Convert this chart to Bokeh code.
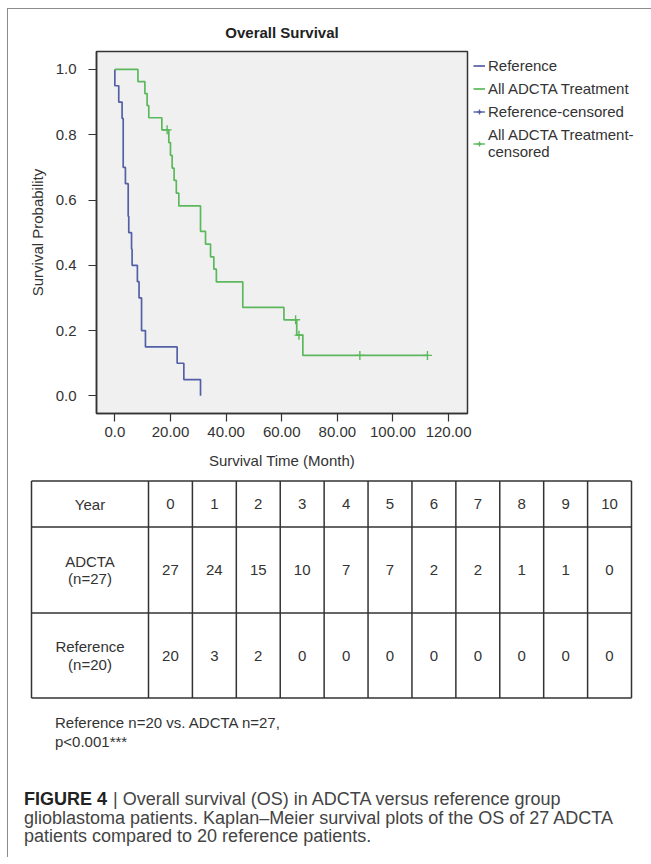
from bokeh.plotting import figure
from bokeh.models import Range1d, FixedTicker, Legend, LegendItem
from bokeh.embed import file_html
from bokeh.resources import INLINE
from bokeh.core.properties import value

# ---------------- data ----------------
ref_times = [0.0, 0.0, 1.4, 2.6, 3.0, 3.8, 4.8, 5.0, 6.0, 6.2, 8.1, 8.7, 9.6, 11.0, 22.4, 24.8, 30.8]
ref_surv = [1.0, 0.95, 0.90, 0.85, 0.70, 0.65, 0.55, 0.50, 0.45, 0.40, 0.35, 0.30, 0.20, 0.15, 0.10, 0.05, 0.00]
ref_cens_times = []
ref_cens_surv = []

adc_times = [0.0, 8.3, 10.8, 11.6, 12.2, 16.9, 19.4, 20.0, 20.6, 21.3, 22.1, 23.0,
             30.8, 32.6, 34.4, 35.6, 36.5, 46.0, 60.8, 65.4, 67.6, 112.4]
adc_surv = [1.0, 0.963, 0.926, 0.889, 0.852, 0.815, 0.776, 0.737, 0.698, 0.660, 0.621, 0.582,
            0.504, 0.465, 0.426, 0.388, 0.349, 0.271, 0.233, 0.186, 0.124, 0.124]
adc_cens_times = [18.8, 65.0, 66.2, 88.1, 112.4]
adc_cens_surv = [0.815, 0.233, 0.186, 0.124, 0.124]

x_ticks = [0, 20, 40, 60, 80, 100, 120]
x_tick_labels = ["0.0", "20.00", "40.00", "60.00", "80.00", "100.00", "120.00"]
y_ticks = [0.0, 0.2, 0.4, 0.6, 0.8, 1.0]
y_tick_labels = ["0.0", "0.2", "0.4", "0.6", "0.8", "1.0"]

legend_labels = ["Reference", "All ADCTA Treatment", "Reference-censored",
                 "All ADCTA Treatment-\ncensored"]

table_years = ["0", "1", "2", "3", "4", "5", "6", "7", "8", "9", "10"]
adcta_at_risk = [27, 24, 15, 10, 7, 7, 2, 2, 1, 1, 0]
ref_at_risk = [20, 3, 2, 0, 0, 0, 0, 0, 0, 0, 0]
row_heads = [["Year"], ["ADCTA", "(n=27)"], ["Reference", "(n=20)"]]

stat_lines = ["Reference n=20 vs. ADCTA n=27,", "p<0.001***"]
fig_label = "FIGURE 4"
caption_lines = ["| Overall survival (OS) in ADCTA versus reference group",
                 "glioblastoma patients. Kaplan\u2013Meier survival plots of the OS of 27 ADCTA",
                 "patients compared to 20 reference patients."]

# ---------------- styles ----------------
FONT = "Liberation Sans"
BLUE = "#5360a6"
GREEN = "#5cb85c"
INK = "#333333"
FRAME_CSS = "1.5px solid #8c8c8c"
NAN = float("nan")

# ---------------- Kaplan-Meier figure ----------------
p = figure(frame_width=371, frame_height=362,
           min_border_left=88, min_border_right=183, min_border_top=42, min_border_bottom=57,
           x_range=Range1d(-6.6, 126.8), y_range=Range1d(-0.054, 1.055),
           output_backend="svg", toolbar_location=None,
           margin=(8, 0, 0, 7),
           styles={"border-left": FRAME_CSS, "border-top": FRAME_CSS})
p.background_fill_color = "#f0f0f0"
p.border_fill_color = "white"
p.outline_line_color = INK
p.outline_line_width = 1.5
p.grid.visible = False

p.title.text = "Overall Survival"
p.title.align = "center"
p.title.text_font = FONT
p.title.text_font_size = "15px"
p.title.text_font_style = "bold"
p.title.text_color = "#222222"
p.title.standoff = 22

for ax in (p.xaxis[0], p.yaxis[0]):
    ax.axis_line_color = INK
    ax.axis_line_width = 1.5
    ax.major_tick_line_color = INK
    ax.major_tick_line_width = 1.2
    ax.major_tick_out = 8
    ax.major_tick_in = 0
    ax.minor_tick_line_color = None
    ax.major_label_text_font = FONT
    ax.major_label_text_font_size = "15px"
    ax.major_label_text_color = INK
    ax.axis_label_text_font = FONT
    ax.axis_label_text_font_size = "15px"
    ax.axis_label_text_font_style = "normal"
    ax.axis_label_text_color = INK

p.xaxis.ticker = FixedTicker(ticks=x_ticks)
p.xaxis.major_label_overrides = dict(zip(x_ticks, x_tick_labels))
p.xaxis.axis_label = "Survival Time (Month)"
p.xaxis.major_label_standoff = 5
p.xaxis.axis_label_standoff = 12

p.yaxis.ticker = FixedTicker(ticks=y_ticks)
p.yaxis.major_label_overrides = dict(zip(y_ticks, y_tick_labels))
p.yaxis.axis_label = "Survival Probability"
p.yaxis.major_label_standoff = 12
p.yaxis.axis_label_standoff = 7

r_ref = p.step(ref_times, ref_surv, mode="after", line_color=BLUE, line_width=1.7)
r_adc = p.step(adc_times, adc_surv, mode="after", line_color=GREEN, line_width=1.7)
r_refc = p.scatter(ref_cens_times, ref_cens_surv, marker="cross", size=9,
                   line_color=BLUE, line_width=1.4)
r_adcc = p.scatter(adc_cens_times, adc_cens_surv, marker="cross", size=9,
                   line_color=GREEN, line_width=1.4)
# legend-only swatches (no visible data)
k_refc = p.scatter([NAN], [NAN], marker="cross", size=9, line_color=BLUE, line_width=1.4)
k_refl = p.line([NAN], [NAN], line_color=BLUE, line_width=1.4)
k_adcc = p.scatter([NAN], [NAN], marker="cross", size=9, line_color=GREEN, line_width=1.4)
k_adcl = p.line([NAN], [NAN], line_color=GREEN, line_width=1.4)

legend = Legend(items=[
    LegendItem(label=legend_labels[0], renderers=[r_ref]),
    LegendItem(label=legend_labels[1], renderers=[r_adc]),
    LegendItem(label=legend_labels[2], renderers=[k_refl, k_refc]),
    LegendItem(label=legend_labels[3], renderers=[k_adcl, k_adcc]),
], location="top_left", margin=6, padding=6, border_line_color=None,
    background_fill_alpha=0, label_text_font=FONT, label_text_font_size="15px",
    label_text_color=INK, glyph_width=12, glyph_height=17, label_standoff=3, spacing=6)
p.add_layout(legend, "right")

# ---------------- table + captions figure (pixel coordinates) ----------------
W, H = 635, 386
t = figure(width=W, height=H, x_range=Range1d(0, W), y_range=Range1d(H, 0),
           min_border=0, output_backend="svg", toolbar_location=None,
           x_axis_location=None, y_axis_location=None,
           margin=(0, 0, 0, 7), styles={"border-left": FRAME_CSS})
t.grid.visible = False
t.outline_line_color = None
t.background_fill_color = "white"
t.border_fill_color = "white"

tab_left, tab_right, head_right = 23.0, 623.0, 140.0
row_edges = [9.5, 55.5, 141.5, 226.5]
ncol = len(table_years)
col_w = (tab_right - head_right) / ncol
col_edges = [head_right + i * col_w for i in range(ncol + 1)]

t.segment(x0=[tab_left] * len(row_edges), y0=row_edges, x1=[tab_right] * len(row_edges), y1=row_edges,
          line_color=INK, line_width=1.5)
vx = [tab_left] + col_edges
t.segment(x0=vx, y0=[row_edges[0]] * len(vx), x1=vx, y1=[row_edges[-1]] * len(vx),
          line_color=INK, line_width=1.5)

col_centers = [(col_edges[i] + col_edges[i + 1]) / 2 for i in range(ncol)]
row_centers = [(row_edges[i] + row_edges[i + 1]) / 2 for i in range(3)]
cells_x, cells_y, cells_t = [], [], []
for vals, yc in zip([table_years, adcta_at_risk, ref_at_risk], row_centers):
    for xc, v in zip(col_centers, vals):
        cells_x.append(xc)
        cells_y.append(yc)
        cells_t.append(str(v))
head_x, head_y, head_t = [], [], []
LINE = 17.4
for lines, yc in zip(row_heads, row_centers):
    n = len(lines)
    for k, s in enumerate(lines):
        head_x.append((tab_left + head_right) / 2)
        head_y.append(yc + (k - (n - 1) / 2) * LINE)
        head_t.append(s)

txt = dict(text_font=value(FONT), text_font_size="15px", text_color=INK,
           text_align="center", text_baseline="middle")
t.text(x=cells_x, y=cells_y, text=cells_t, **txt)
t.text(x=head_x, y=head_y, text=head_t, **txt)

t.text(x=[46.5, 46.5], y=[251.2, 269.5], text=stat_lines, text_font=value(FONT),
       text_font_size="15px", text_color=INK, text_align="left", text_baseline="middle")

t.text(x=[15.5], y=[327.5], text=[fig_label], text_font=value(FONT), text_font_size="18px",
       text_font_style="bold", text_color="#222222", text_align="left", text_baseline="middle")
t.text(x=[104.5, 15.5, 15.5], y=[327.5, 346.2, 364.5], text=caption_lines, text_font=value(FONT),
       text_font_size="18px", text_color="#444444", text_align="left", text_baseline="middle")

open("out.html", "w").write(file_html([p, t], INLINE))
